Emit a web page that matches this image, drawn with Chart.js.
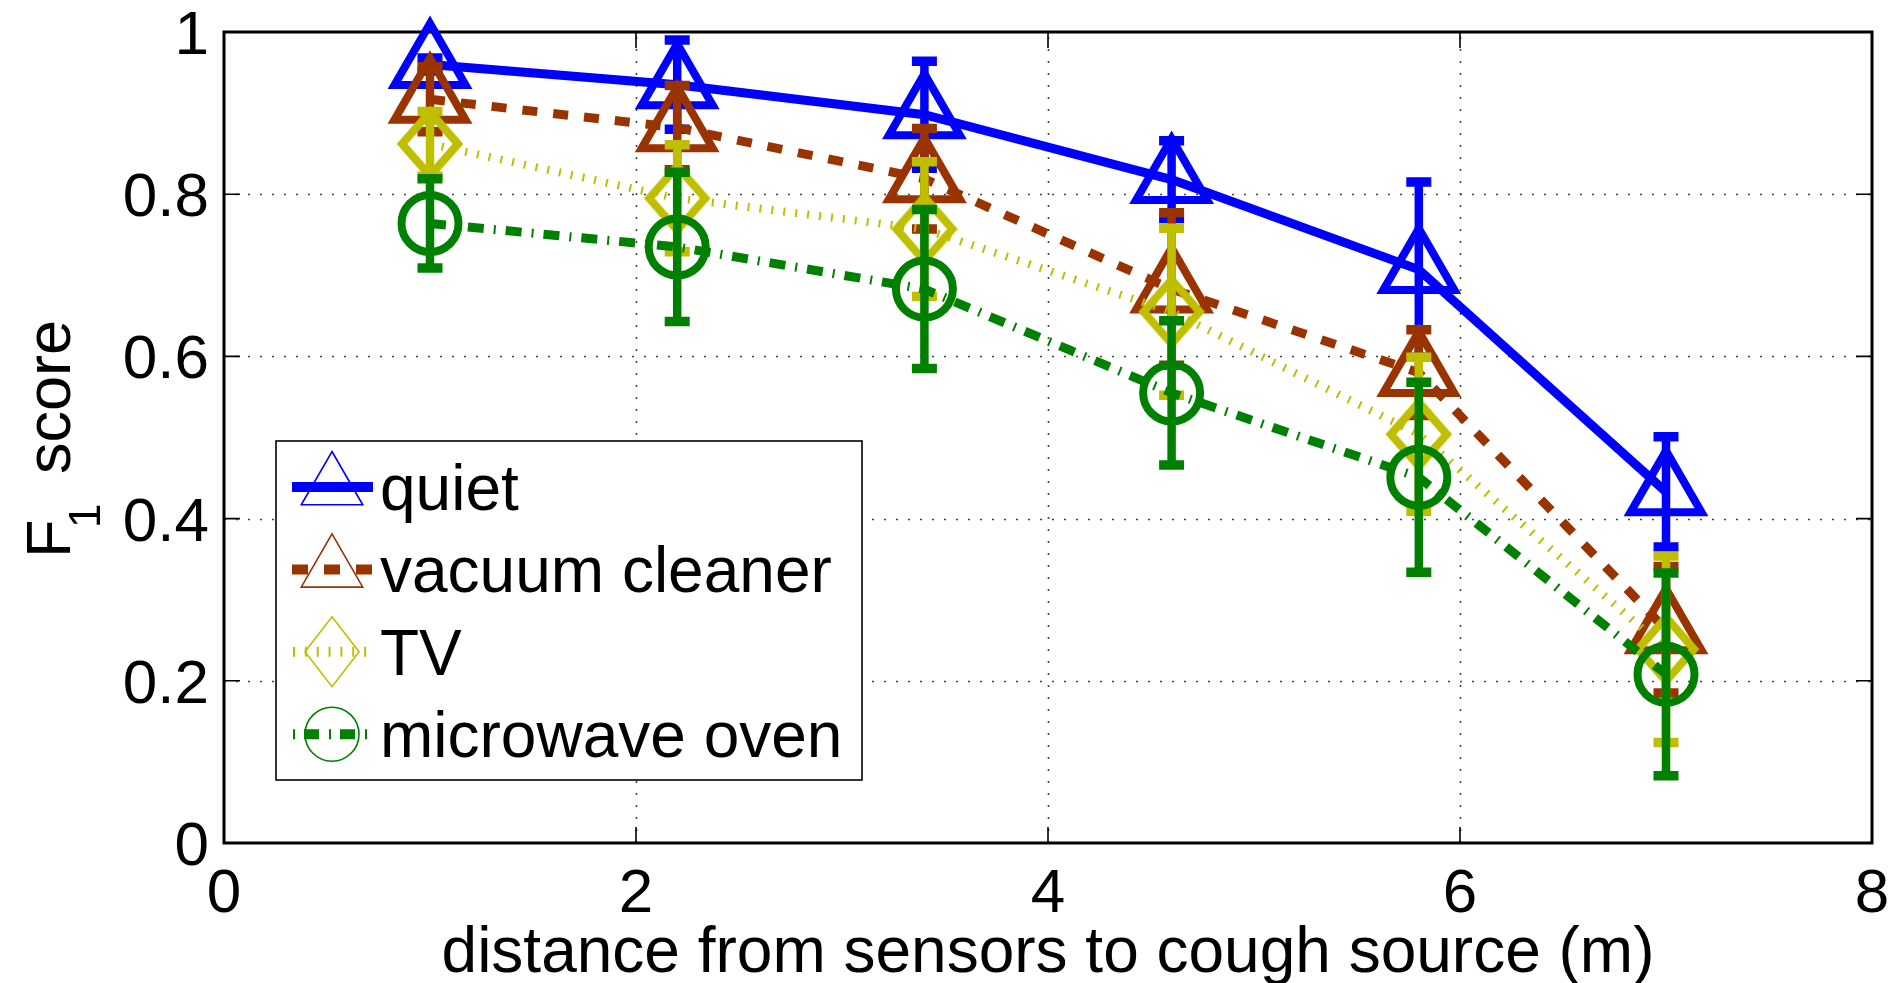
<!DOCTYPE html>
<html><head><meta charset="utf-8">
<script src="https://cdn.jsdelivr.net/npm/chart.js@4.4.1/dist/chart.umd.min.js"></script>
<style>html,body{margin:0;padding:0;background:#fff;overflow:hidden}#wrap{width:1895px;height:983px;position:relative}</style>
</head><body><div id="wrap"><canvas id="c"></canvas></div>
<script>
// ---- data ----
const distances = [1, 2.2, 3.4, 4.6, 5.8, 7];
const seriesNames = ['quiet', 'vacuum cleaner', 'TV', 'microwave oven'];
const quiet = [0.960, 0.935, 0.898, 0.818, 0.707, 0.433];
const quietErr = [0.008, 0.055, 0.066, 0.048, 0.108, 0.068];
const vacuum = [0.917, 0.882, 0.819, 0.683, 0.580, 0.263];
const vacuumErr = [0.040, 0.052, 0.062, 0.094, 0.053, 0.078];
const tv = [0.862, 0.795, 0.757, 0.655, 0.504, 0.239];
const tvErr = [0.040, 0.066, 0.083, 0.103, 0.095, 0.115];
const microwave = [0.764, 0.735, 0.683, 0.555, 0.451, 0.208];
const microwaveErr = [0.055, 0.092, 0.098, 0.089, 0.117, 0.125];
const xTickLabels = ['0', '2', '4', '6', '8'];
const yTickLabels = ['0', '0.2', '0.4', '0.6', '0.8', '1'];
const xTitle = 'distance from sensors to cough source (m)';
const yTitleMain = 'F', yTitleSub = '1', yTitleRest = 'score';

// ---- styles ----
const FONT = '"Liberation Sans", Arial, Helvetica, sans-serif';
const colors = ['#0000FF', '#993300', '#BFBF00', '#008000'];
const dashes = [[], [15, 16], [2, 10], [16, 10, 2, 10]];
const errors = [quietErr, vacuumErr, tvErr, microwaveErr];
const values = [quiet, vacuum, tv, microwave];

function makeDiamond(hw, hh, lw, color) {
  const c = document.createElement('canvas');
  c.width = 2 * Math.ceil(hw + lw * 2); c.height = 2 * Math.ceil(hh + lw * 2);
  const g = c.getContext('2d'); const cx = c.width / 2, cy = c.height / 2;
  g.strokeStyle = color; g.lineWidth = lw; g.lineJoin = 'miter';
  g.beginPath(); g.moveTo(cx, cy - hh); g.lineTo(cx + hw, cy); g.lineTo(cx, cy + hh); g.lineTo(cx - hw, cy); g.closePath(); g.stroke();
  return c;
}
const diamondImg = makeDiamond(28, 32, 8, colors[2]);

function pts(vals) { return distances.map((d, i) => ({x: d, y: vals[i]})); }

const datasets = values.map((v, k) => ({
  label: seriesNames[k],
  data: pts(v),
  borderColor: colors[k],
  backgroundColor: 'rgba(0,0,0,0)',
  borderWidth: k === 2 ? 8 : 9,
  borderDash: dashes[k],
  borderCapStyle: 'butt',
  tension: 0,
  fill: false,
  clip: false,
  order: 3 - k,
  pointStyle: k === 2 ? diamondImg : (k === 3 ? 'circle' : 'triangle'),
  pointRadius: k === 3 ? 28.5 : (k === 2 ? 31 : 41),
  pointBorderWidth: 8,
  pointBorderColor: colors[k],
  pointBackgroundColor: 'rgba(0,0,0,0)'
}));

const errorBars = {
  id: 'errorBars',
  afterDatasetDraw(chart, args) {
    const k = args.index; const ctx = chart.ctx;
    const xs = chart.scales.x, ys = chart.scales.y;
    ctx.save();
    ctx.strokeStyle = colors[k]; ctx.setLineDash([]); ctx.lineCap = 'butt';
    distances.forEach((d, i) => {
      const x = xs.getPixelForValue(d);
      const yt = ys.getPixelForValue(values[k][i] + errors[k][i]);
      const yb = ys.getPixelForValue(values[k][i] - errors[k][i]);
      ctx.lineWidth = 8.5;
      ctx.beginPath(); ctx.moveTo(x, yt); ctx.lineTo(x, yb); ctx.stroke();
      ctx.lineWidth = 9.5;
      ctx.beginPath(); ctx.moveTo(x - 12.5, yt); ctx.lineTo(x + 12.5, yt); ctx.moveTo(x - 12.5, yb); ctx.lineTo(x + 12.5, yb); ctx.stroke();
    });
    ctx.restore();
  }
};

const frame = {
  id: 'frame',
  beforeDatasetsDraw(chart) {
    const ctx = chart.ctx, a = chart.chartArea, xs = chart.scales.x, ys = chart.scales.y;
    ctx.save();
    // dotted grid
    ctx.strokeStyle = '#444'; ctx.lineWidth = 1.6; ctx.setLineDash([2, 10]);
    xs.ticks.forEach(t => { if (t.value > 0 && t.value < 8) { const x = Math.round(xs.getPixelForValue(t.value)) + 0.5; ctx.beginPath(); ctx.moveTo(x, a.bottom); ctx.lineTo(x, a.top); ctx.stroke(); } });
    ys.ticks.forEach(t => { if (t.value > 0.001 && t.value < 0.999) { const y = Math.round(ys.getPixelForValue(t.value)) + 0.5; ctx.beginPath(); ctx.moveTo(a.left, y); ctx.lineTo(a.right, y); ctx.stroke(); } });
    ctx.setLineDash([]);
    // inward ticks
    ctx.strokeStyle = '#000'; ctx.lineWidth = 1.6; const L = 16;
    xs.ticks.forEach(t => { const x = xs.getPixelForValue(t.value); ctx.beginPath(); ctx.moveTo(x, a.bottom); ctx.lineTo(x, a.bottom - L); ctx.moveTo(x, a.top); ctx.lineTo(x, a.top + L); ctx.stroke(); });
    ys.ticks.forEach(t => { const y = ys.getPixelForValue(t.value); ctx.beginPath(); ctx.moveTo(a.left, y); ctx.lineTo(a.left + L, y); ctx.moveTo(a.right, y); ctx.lineTo(a.right - L, y); ctx.stroke(); });
    // box
    ctx.lineWidth = 3; ctx.strokeRect(a.left, a.top, a.right - a.left, a.bottom - a.top);
    // tick labels
    ctx.fillStyle = '#000'; ctx.textBaseline = 'alphabetic'; ctx.font = '62px ' + FONT;
    ctx.textAlign = 'center';
    xs.ticks.forEach((t, i) => { ctx.fillText(xTickLabels[i], xs.getPixelForValue(t.value), a.bottom + 69); });
    ctx.textAlign = 'right';
    ys.ticks.forEach((t, i) => { ctx.fillText(yTickLabels[i], a.left - 15, ys.getPixelForValue(t.value) + 22); });
    ctx.restore();
  },
  afterDraw(chart) {
    const ctx = chart.ctx, a = chart.chartArea;
    ctx.save();
    // x title
    ctx.fillStyle = '#000'; ctx.textAlign = 'center'; ctx.textBaseline = 'alphabetic';
    ctx.font = '64px ' + FONT;
    ctx.fillText(xTitle, (a.left + a.right) / 2, 972);
    // y title
    ctx.save();
    ctx.translate(70, 558); ctx.rotate(-Math.PI / 2); ctx.textAlign = 'left';
    ctx.font = '63px ' + FONT; ctx.fillText(yTitleMain, 0, 0);
    ctx.font = '44px ' + FONT; ctx.fillText(yTitleSub, 30, 30);
    ctx.font = '63px ' + FONT; ctx.fillText(yTitleRest, 84, 0);
    ctx.restore();
    // legend
    const lx = 276, ly = 441, lw = 586, lh = 339;
    ctx.fillStyle = '#fff'; ctx.fillRect(lx, ly, lw, lh);
    ctx.strokeStyle = '#000'; ctx.lineWidth = 1.6; ctx.strokeRect(lx, ly, lw, lh);
    const legDash = [[], [16, 16], [2, 9.85], [2, 9, 15, 10]];
    seriesNames.forEach((name, k) => {
      const cy = 487 + k * 82.4, cx = 332;
      ctx.save();
      ctx.strokeStyle = colors[k]; ctx.lineWidth = 10; ctx.lineCap = 'butt'; ctx.setLineDash(legDash[k]);
      ctx.beginPath(); ctx.moveTo(k >= 2 ? 293 : 292, cy); ctx.lineTo(373, cy); ctx.stroke();
      ctx.setLineDash([]); ctx.lineWidth = 1.6; ctx.beginPath();
      if (k < 2) { const r = 35.5; ctx.moveTo(cx, cy - r); ctx.lineTo(cx + r * 0.866, cy + r / 2); ctx.lineTo(cx - r * 0.866, cy + r / 2); ctx.closePath(); }
      else if (k === 2) { ctx.moveTo(cx, cy - 35); ctx.lineTo(cx + 27, cy); ctx.lineTo(cx, cy + 35); ctx.lineTo(cx - 27, cy); ctx.closePath(); }
      else { ctx.arc(cx, cy, 27, 0, Math.PI * 2); }
      ctx.stroke();
      ctx.restore();
      ctx.fillStyle = '#000'; ctx.textAlign = 'left'; ctx.textBaseline = 'alphabetic';
      ctx.font = '64px ' + FONT; ctx.fillText(name, 380, cy + 23);
    });
    ctx.restore();
  }
};

new Chart(document.getElementById('c'), {
  type: 'line',
  data: {datasets},
  options: {
    responsive: true, maintainAspectRatio: false, animation: false,
    layout: {autoPadding: false, padding: {top: 32, right: 23, left: 0, bottom: 0}},
    plugins: {legend: {display: false}, tooltip: {enabled: false}},
    scales: {
      x: {
        type: 'linear', min: 0, max: 8,
        ticks: {display: false, stepSize: 2, autoSkip: false, maxRotation: 0},
        grid: {display: false, drawTicks: false}, border: {display: false},
        afterFit(s) { s.height = 140; }
      },
      y: {
        type: 'linear', min: 0, max: 1,
        ticks: {display: false, stepSize: 0.2, autoSkip: false},
        grid: {display: false, drawTicks: false}, border: {display: false},
        afterFit(s) { s.width = 224; }
      }
    }
  },
  plugins: [frame, errorBars]
});
</script></body></html>
